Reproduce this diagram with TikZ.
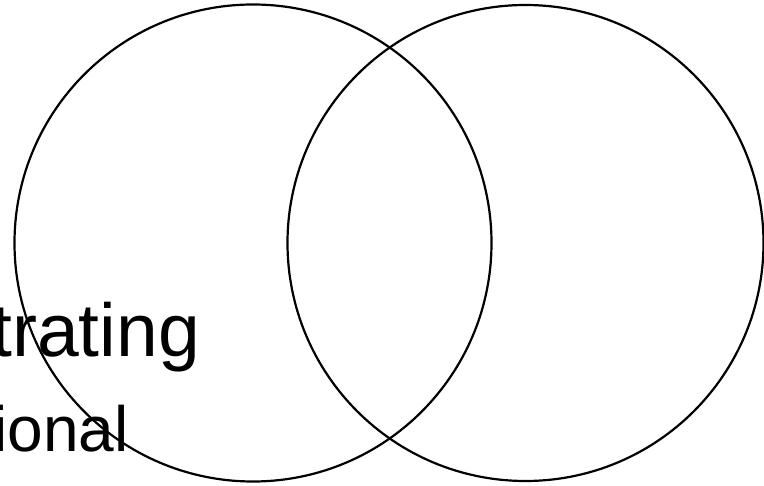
\documentclass[tikz,border=0pt]{standalone}
\usepackage{fontspec}
\setmainfont{Liberation Sans}
\begin{document}
\begin{tikzpicture}[x=1pt,y=-1pt,
  ring/.style={draw=black,line width=2.2pt},
  bigtext/.style={inner sep=0pt,anchor=base east,font=\fontsize{75}{80}\selectfont},
  midtext/.style={inner sep=0pt,anchor=base east,font=\fontsize{64}{70}\selectfont}]
\useasboundingbox (0,0) rectangle (764,486);
\node[ring,circle,minimum size=477pt,inner sep=0pt] (left) at (253,243) {};
\node[ring,circle,minimum size=476pt,inner sep=0pt] (right) at (525.5,243) {};
\node[bigtext] (t1) at (200,357) {trating};
\node[midtext] (t2) at (129,452) {ional};
\end{tikzpicture}
\end{document}
